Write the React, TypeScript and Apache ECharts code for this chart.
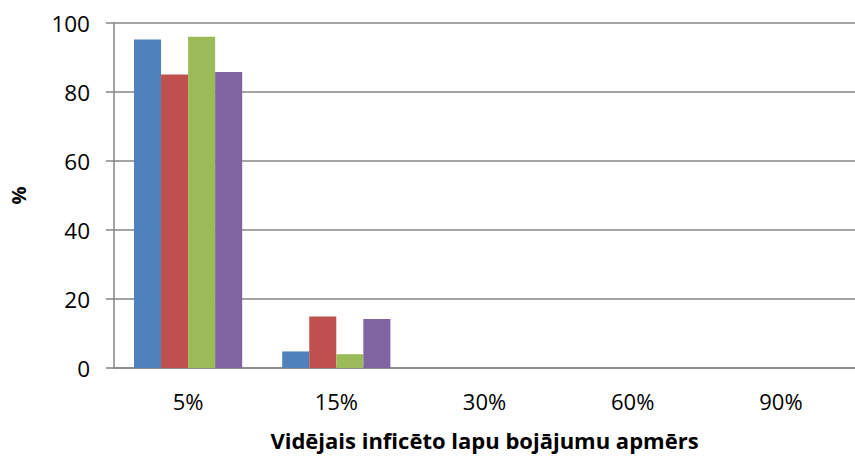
import React, { useEffect, useRef } from "react";
import * as echarts from "echarts";

const categories = ["5%", "15%", "30%", "60%", "90%"];
const series1 = [95.2, 4.8, 0, 0, 0];
const series2 = [85.1, 14.9, 0, 0, 0];
const series3 = [96, 4, 0, 0, 0];
const series4 = [85.8, 14.2, 0, 0, 0];
const colors = ["#4F81BD", "#C0504D", "#9BBB59", "#8064A2"];
const xTitle = "Vidējais inficēto lapu bojājumu apmērs";
const yTitle = "%";

export default function App() {
  const ref = useRef<HTMLDivElement>(null);
  useEffect(() => {
    if (!ref.current) return;
    const chart = echarts.init(ref.current, null, { renderer: "svg" });
    const font = "'Open Sans', 'Noto Sans', sans-serif";
    const all = [series1, series2, series3, series4];
    chart.setOption({
      animation: false,
      grid: { left: 112, top: 23, width: 753, height: 346, containLabel: false },
      xAxis: {
        type: "category",
        data: categories,
        axisLine: { show: true, lineStyle: { color: "#868686", width: 1.5 } },
        axisTick: { show: false },
        axisLabel: { color: "#000", fontSize: 22, fontFamily: font, margin: 22 },
        name: xTitle,
        nameLocation: "middle",
        nameGap: 61,
        nameTextStyle: { color: "#000", fontSize: 22, fontWeight: "bold", fontFamily: font },
      },
      yAxis: {
        type: "value",
        min: 0,
        max: 100,
        interval: 20,
        axisLine: { show: true, lineStyle: { color: "#868686", width: 1.5 } },
        axisTick: { show: true, length: 8, inside: false, lineStyle: { color: "#868686", width: 1.5 } },
        splitLine: { show: true, lineStyle: { color: "#868686", width: 1.5 } },
        axisLabel: { color: "#000", fontSize: 22.5, fontFamily: font, margin: 24 },
        name: yTitle,
        nameLocation: "middle",
        nameGap: 86,
        nameRotate: 90,
        nameTextStyle: { color: "#000", fontSize: 20, fontWeight: "bold", fontFamily: font },
      },
      series: all.map((d, i) => ({
        type: "bar",
        data: d,
        itemStyle: { color: colors[i] },
        barGap: "0%",
        barCategoryGap: "27%",
      })),
    });
    return () => chart.dispose();
  }, []);
  return <div ref={ref} style={{ width: 855, height: 456, position: "absolute", left: 0, top: 0 }} />;
}
